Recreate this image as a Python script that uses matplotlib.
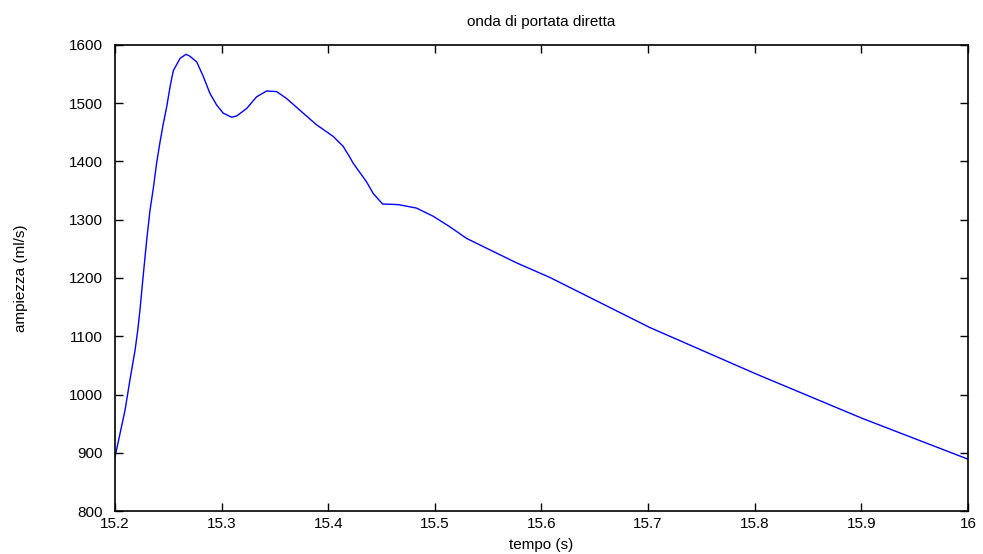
import matplotlib.pyplot as plt

plt.rcParams['font.family'] = ['Liberation Sans', 'DejaVu Sans']

# punti
tempo = [15.2, 15.2047, 15.2094, 15.214, 15.2188, 15.2213, 15.2234, 15.2265,
         15.2297, 15.2328, 15.236, 15.239, 15.242, 15.2453, 15.2485, 15.2516,
         15.2547, 15.261, 15.2666, 15.270, 15.2766, 15.2828, 15.289, 15.2953,
         15.3015, 15.3094, 15.314, 15.3235, 15.3328, 15.3422, 15.3516, 15.361,
         15.3734, 15.389, 15.4047, 15.414, 15.420, 15.4234, 15.4328, 15.4359,
         15.4422, 15.451, 15.4656, 15.4828, 15.4984, 15.514, 15.5297, 15.5453,
         15.5766, 15.6078, 15.7016, 15.8016, 15.9009, 16.0]
ampiezza = [893, 933, 973, 1025, 1076, 1110, 1145, 1205,
            1265, 1316, 1355, 1397, 1431, 1465, 1494, 1528,
            1556, 1577, 1584, 1581, 1571, 1546, 1517, 1497,
            1483, 1476, 1478, 1491, 1511, 1521, 1520, 1508,
            1488, 1463, 1443, 1426, 1408, 1397, 1373, 1365,
            1345, 1327, 1326, 1320, 1306, 1288, 1268, 1254,
            1226, 1201, 1115, 1035, 959, 889]

fig = plt.figure(figsize=(9.83, 5.54), dpi=100)
ax = fig.add_axes([0.117, 0.0776, 0.8677, 0.8412])

ax.plot(tempo, ampiezza, color='blue', linewidth=1.0)

ax.set_xlim(15.2, 16)
ax.set_ylim(800, 1600)
ax.set_xticks([15.2, 15.3, 15.4, 15.5, 15.6, 15.7, 15.8, 15.9, 16])
ax.set_xticklabels(['15.2', '15.3', '15.4', '15.5', '15.6', '15.7', '15.8', '15.9', '16'])
ax.set_yticks(range(800, 1601, 100))

ax.tick_params(direction='in', length=6, width=1, top=True, right=True,
               labelsize=11)
ax.tick_params(axis='x', pad=4)
ax.tick_params(axis='y', pad=9)
for s in ax.spines.values():
    s.set_linewidth(1.2)

ax.set_title('onda di portata diretta', fontsize=11, pad=14)
ax.set_xlabel('tempo (s)', fontsize=11)
ax.set_ylabel('ampiezza (ml/s)', fontsize=11)
ax.xaxis.set_label_coords(0.5, -0.058)
ax.yaxis.set_label_coords(-0.102, 0.5)

fig.savefig('out.png', dpi=100)
